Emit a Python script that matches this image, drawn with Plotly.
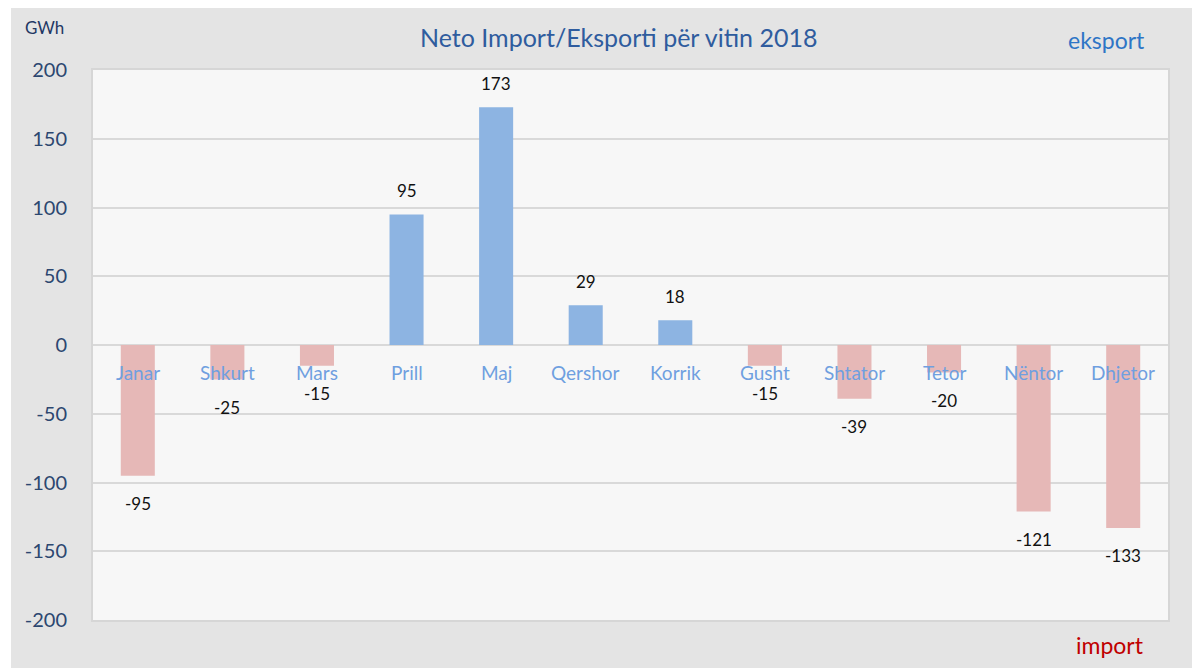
import plotly.graph_objects as go

months = ["Janar", "Shkurt", "Mars", "Prill", "Maj", "Qershor", "Korrik",
          "Gusht", "Shtator", "Tetor", "Nëntor", "Dhjetor"]
values = [-95, -25, -15, 95, 173, 29, 18, -15, -39, -20, -121, -133]
y_ticks = [-200, -150, -100, -50, 0, 50, 100, 150, 200]
y_ticktext = [str(t) for t in y_ticks]

POS = "#8db4e2"
NEG = "#e6b8b7"
colors = [POS if v >= 0 else NEG for v in values]

OFF = 8  # page body margin
W, H = 1200 - OFF, 668 - OFF
# plot area in page pixels: x 93..1168, y 70..620
L, T = 93 - OFF, 70 - OFF
R, B = 1200 - 1168, 668 - 620
pw, ph = W - L - R, H - T - B

def px_x(x):  # page px -> paper
    return (x - OFF - L) / pw

def px_y(y):
    return (H - B - (y - OFF)) / ph

fig = go.Figure()
fig.add_trace(go.Bar(
    x=months, y=values, marker=dict(color=colors, line=dict(width=0)),
    width=0.38, hoverinfo="x+y",
))

annotations = []
for m in months:
    annotations.append(dict(x=m, y=-20, xref="x", yref="y", text=m, showarrow=False,
                            xanchor="center", yanchor="middle",
                            font=dict(family="Lato", size=19, color="#6f9fe0")))
for m, v in zip(months, values):
    annotations.append(dict(x=m, y=v, xref="x", yref="y", text=str(v), showarrow=False,
                            xanchor="center", yanchor="middle",
                            yshift=24 if v >= 0 else -28,
                            font=dict(family="Lato", size=17, color="#111111")))
annotations += [
    dict(x=px_x(618), y=px_y(37), xref="paper", yref="paper", showarrow=False,
         xanchor="center", yanchor="middle",
         text="Neto Import/Eksporti për vitin 2018",
         font=dict(family="Lato", size=25, color="#2f5c9e")),
    dict(x=px_x(44), y=px_y(28), xref="paper", yref="paper", showarrow=False,
         xanchor="center", yanchor="middle",
         text="GWh", font=dict(family="Lato", size=17, color="#1f3864")),
    dict(x=px_x(1106), y=px_y(40), xref="paper", yref="paper", showarrow=False,
         xanchor="center", yanchor="middle",
         text="eksport", font=dict(family="Lato", size=23, color="#2e75c6")),
    dict(x=px_x(1110), y=px_y(645), xref="paper", yref="paper", showarrow=False,
         xanchor="center", yanchor="middle",
         text="import", font=dict(family="Lato", size=23, color="#c00000")),
]

shapes = [
    dict(type="rect", xref="paper", yref="paper", x0=px_x(OFF), x1=px_x(11),
         y0=px_y(OFF), y1=px_y(668), fillcolor="white", line=dict(width=0), layer="below"),
]

fig.update_layout(
    width=W, height=H,
    margin=dict(l=L, r=R, t=T, b=B),
    paper_bgcolor="#e4e4e4", plot_bgcolor="#f7f7f7",
    showlegend=False, bargap=0.6,
    annotations=annotations, shapes=shapes,
    xaxis=dict(showticklabels=False, showgrid=False, zeroline=False,
               showline=True, mirror=True, linecolor="#d6d6d6", linewidth=2,
               range=[-0.5, 11.5]),
    yaxis=dict(range=[-200, 200], tickvals=y_ticks, ticktext=y_ticktext, showgrid=True,
               gridcolor="#d9d9d9", gridwidth=2, zeroline=False,
               showline=True, mirror=True, linecolor="#d6d6d6", linewidth=2,
               tickfont=dict(family="Lato", size=20, color="#2c4770"),
               ticklabelstandoff=20),
)

fig.write_html("out.html")
